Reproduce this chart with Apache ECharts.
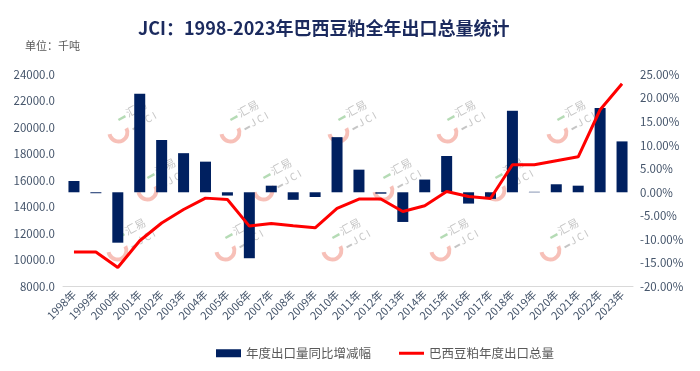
<!DOCTYPE html>
<html>
<head>
<meta charset="utf-8">
<script src="https://cdn.jsdelivr.net/npm/echarts@6/dist/echarts.min.js"></script>
<style>
html,body{margin:0;padding:0;background:#fff;}
#main{width:700px;height:371px;}
</style>
</head>
<body>
<div id="main"></div>
<script>
var years = ['1998年','1999年','2000年','2001年','2002年','2003年','2004年','2005年','2006年','2007年','2008年','2009年','2010年','2011年','2012年','2013年','2014年','2015年','2016年','2017年','2018年','2019年','2020年','2021年','2022年','2023年'];
// 年度出口量同比增减幅 (%)
var yoyPct = [2.4, -0.2, -10.7, 20.9, 11.1, 8.3, 6.5, -0.7, -14.0, 1.4, -1.6, -1.0, 11.7, 4.8, -0.3, -6.3, 2.7, 7.7, -2.4, -1.4, 17.3, 0.1, 1.7, 1.4, 17.9, 10.8];
// 巴西豆粕年度出口总量 (千吨)
var exportTotal = [10600, 10600, 9430, 11450, 12790, 13810, 14670, 14570, 12560, 12760, 12580, 12430, 13890, 14600, 14600, 13660, 14090, 15170, 14790, 14640, 17190, 17190, 17490, 17790, 21340, 23300];
var leftTicks = {min: 8000, max: 24000, interval: 2000};
var rightTicks = {min: -20, max: 25, interval: 5};

var FONT = '"Noto Sans CJK SC","Noto Sans",sans-serif';
var chart = echarts.init(document.getElementById('main'), null, {renderer: 'canvas'});

function watermark(x, y) {
  return {
    type: 'group', x: x, y: y, rotation: 0.5, silent: true, z: 0,
    children: [
      {type: 'arc', shape: {cx: -12, cy: 2, r: 9, startAngle: 0, endAngle: Math.PI * 1.1}, style: {stroke: 'rgba(240,140,125,0.55)', lineWidth: 4, fill: null}},
      {type: 'line', shape: {x1: -6, y1: -9, x2: 2, y2: -9}, style: {stroke: 'rgba(120,190,120,0.55)', lineWidth: 2.5}},
      {type: 'text', x: 4, y: -16, style: {text: '汇易', fontSize: 11, fill: 'rgba(150,150,150,0.55)', fontFamily: FONT}},
      {type: 'line', shape: {x1: 2, y1: 6, x2: 8, y2: 6}, style: {stroke: 'rgba(150,150,150,0.55)', lineWidth: 2}},
      {type: 'text', x: 10, y: -1, style: {text: 'J C I', fontSize: 10, fill: 'rgba(150,150,150,0.55)', fontFamily: FONT}}
    ]
  };
}
var wmPos = [[128,125],[240,125],[348,125],[457,125],[567,125],[157,183],[273,183],[393,183],[505,183],[127,243],[235,243],[342,243],[450,243],[560,243]];
var graphics = wmPos.map(function(p){ return watermark(p[0], p[1]); });
graphics.push({type: 'text', left: 25, top: 40, style: {text: '单位：千吨', fontSize: 11, fill: '#595959', fontFamily: FONT}, z: 10});

chart.setOption({
  backgroundColor: '#ffffff',
  animation: false,
  textStyle: {fontFamily: FONT},
  title: {
    text: 'JCI：1998-2023年巴西豆粕全年出口总量统计',
    left: 133, top: 14,
    textStyle: {fontSize: 18, fontWeight: 'bold', color: '#1b2a5e', fontFamily: FONT}
  },
  graphic: graphics,
  legend: {
    left: 211, top: 342,
    itemWidth: 25, itemHeight: 8, itemGap: 28,
    textStyle: {fontSize: 12.5, color: '#595959', fontFamily: FONT},
    data: [
      {name: '年度出口量同比增减幅', icon: 'rect'},
      {name: '巴西豆粕年度出口总量', icon: 'path://M0,0L0,0M0,2.5L25,2.5L25,5.5L0,5.5ZM25,8L25,8'}
    ]
  },
  grid: {left: 63, right: 67, top: 74.5, bottom: 84.5},
  xAxis: {
    type: 'category', data: years,
    axisLine: {onZero: false, lineStyle: {color: '#d9d9d9', width: 1}},
    axisTick: {show: false},
    axisLabel: {rotate: 45, fontSize: 11, color: '#44546a', margin: 6, interval: 0, fontFamily: FONT}
  },
  yAxis: [
    {
      type: 'value', min: leftTicks.min, max: leftTicks.max, interval: leftTicks.interval,
      splitLine: {show: false}, axisLine: {show: false}, axisTick: {show: false},
      axisLabel: {fontSize: 11.5, color: '#44546a', margin: 8, formatter: function(v){ return v.toFixed(1); }}
    },
    {
      type: 'value', min: rightTicks.min, max: rightTicks.max, interval: rightTicks.interval,
      splitLine: {show: false}, axisLine: {show: false}, axisTick: {show: false},
      axisLabel: {fontSize: 11.5, color: '#44546a', margin: 7, formatter: function(v){ return v.toFixed(2) + '%'; }}
    }
  ],
  series: [
    {
      name: '年度出口量同比增减幅', type: 'bar', yAxisIndex: 1, data: yoyPct,
      barWidth: 11, itemStyle: {color: '#002060'}, z: 2
    },
    {
      name: '巴西豆粕年度出口总量', type: 'line', yAxisIndex: 0, data: exportTotal,
      symbol: 'none', lineStyle: {color: '#ff0000', width: 3}, itemStyle: {color: '#ff0000'}, z: 3
    }
  ]
});
</script>
</body>
</html>
